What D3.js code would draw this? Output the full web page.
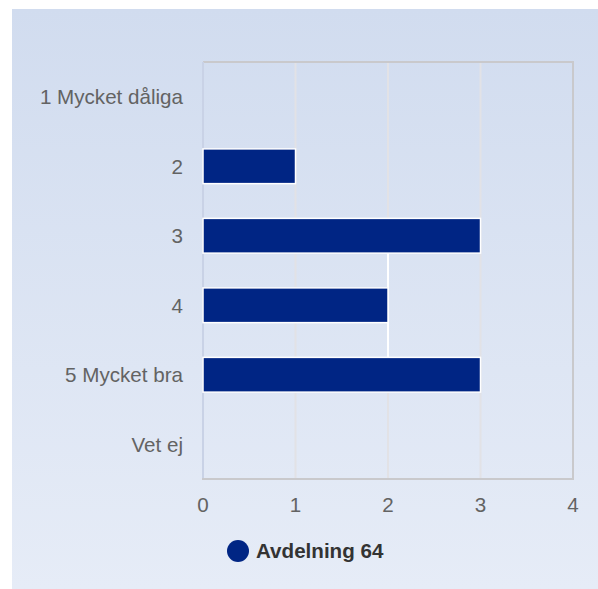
<!DOCTYPE html>
<html><head><meta charset="utf-8">
<script src="https://cdn.jsdelivr.net/npm/d3@7"></script>
<style>html,body{margin:0;padding:0;background:#fff;}svg{display:block;}</style>
</head><body>
<svg id="chart" width="598" height="589"></svg>
<script>
const categories = ["1 Mycket dåliga", "2", "3", "4", "5 Mycket bra", "Vet ej"];
const values = [0, 1, 3, 2, 3, 0];
const xTicks = [0, 1, 2, 3, 4];
const seriesName = "Avdelning 64";

const W = 598, H = 589;
const margin = {left: 203, right: 25, top: 62, bottom: 110};
const svg = d3.select("#chart");
const defs = svg.append("defs");
const grad = defs.append("linearGradient").attr("id", "bg").attr("x1", 0).attr("y1", 0).attr("x2", 0).attr("y2", 1);
grad.append("stop").attr("offset", "0%").attr("stop-color", "#d1dcef");
grad.append("stop").attr("offset", "100%").attr("stop-color", "#e6ecf7");
svg.append("rect").attr("x", 12).attr("y", 9).attr("width", W - 12).attr("height", H - 9).attr("fill", "url(#bg)");

const x = d3.scaleLinear().domain([0, 4]).range([margin.left, 573]);
const y = d3.scaleBand().domain(categories).range([margin.top, 479]).paddingInner(0.5).paddingOuter(0.25);

const font = "'Liberation Sans', Arial, sans-serif";
const fs = 20.6;

// gridlines
svg.append("g").selectAll("line").data(xTicks.filter(t => t > 0 && t < 4)).join("line")
  .attr("x1", d => x(d)).attr("x2", d => x(d)).attr("y1", margin.top).attr("y2", 479)
  .attr("stroke", "#e2e2e6").attr("stroke-width", 2);

// white highlight on the gridline at 2 between the neighbouring bars
svg.append("line").attr("x1", x(2)).attr("x2", x(2))
  .attr("y1", y("3") + y.bandwidth()).attr("y2", y("5 Mycket bra"))
  .attr("stroke", "#ffffff").attr("stroke-width", 2);

// frame
svg.append("line").attr("x1", x(0)).attr("x2", x(4) + 1).attr("y1", margin.top).attr("y2", margin.top).attr("stroke", "#c9c9cc").attr("stroke-width", 2);
svg.append("line").attr("x1", x(4)).attr("x2", x(4)).attr("y1", margin.top).attr("y2", 480).attr("stroke", "#c9c9cc").attr("stroke-width", 2);
svg.append("line").attr("x1", x(0)).attr("x2", x(0)).attr("y1", margin.top).attr("y2", 479).attr("stroke", "#c9d2e6").attr("stroke-width", 2);
svg.append("line").attr("x1", x(0) - 1).attr("x2", x(4) + 1).attr("y1", 479).attr("y2", 479).attr("stroke", "#c9c9cc").attr("stroke-width", 2);

// bars
svg.append("g").selectAll("rect").data(categories.map((c, i) => ({c, v: values[i]})).filter(d => d.v > 0)).join("rect")
  .attr("x", x(0)).attr("y", d => y(d.c))
  .attr("width", d => x(d.v) - x(0)).attr("height", y.bandwidth())
  .attr("fill", "#002584").attr("stroke", "#ffffff").attr("stroke-width", 1.5);

// y labels
svg.append("g").selectAll("text").data(categories).join("text")
  .attr("x", x(0) - 20).attr("y", d => y(d) + y.bandwidth() / 2).attr("dy", "0.36em")
  .attr("text-anchor", "end").attr("font-family", font).attr("font-size", fs)
  .attr("fill", "#636363").text(d => d);

// x tick labels
svg.append("g").selectAll("text").data(xTicks).join("text")
  .attr("x", d => x(d)).attr("y", 512)
  .attr("text-anchor", "middle").attr("font-family", font).attr("font-size", fs)
  .attr("fill", "#636363").text(d => d);

// legend
svg.append("circle").attr("cx", 238).attr("cy", 551).attr("r", 11).attr("fill", "#002584");
svg.append("text").attr("x", 256).attr("y", 558).attr("font-family", font).attr("font-size", fs)
  .attr("font-weight", "bold").attr("fill", "#333333").text(seriesName);
</script>
</body></html>
